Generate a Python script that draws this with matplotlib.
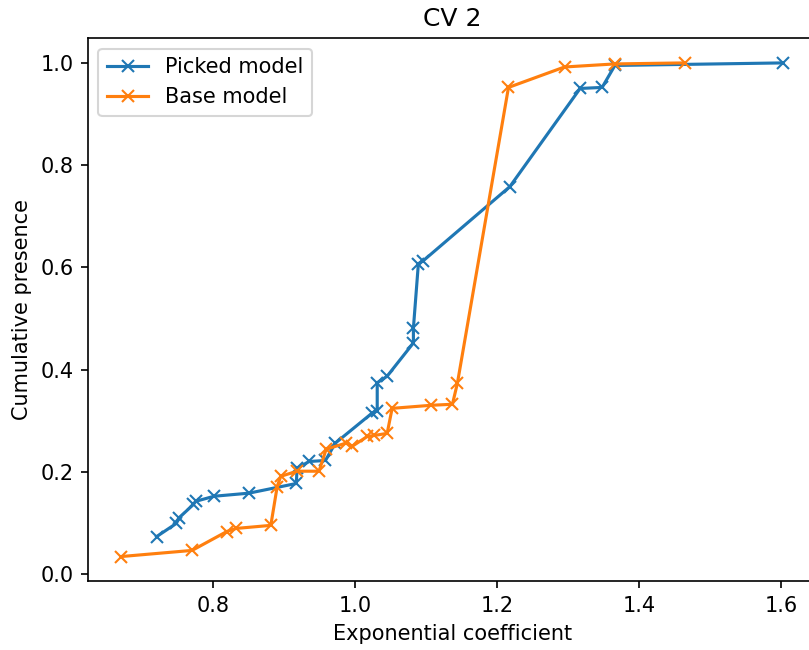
import matplotlib
matplotlib.use("Agg")
import matplotlib.pyplot as plt

# Picked model
picked_x = [0.720, 0.748, 0.751, 0.772, 0.775, 0.801, 0.850, 0.917, 0.918, 0.935,
            0.958, 0.972, 1.024, 1.031, 1.031, 1.045, 1.082, 1.082, 1.089, 1.096,
            1.218, 1.317, 1.348, 1.366, 1.603]
picked_y = [0.073, 0.099, 0.109, 0.136, 0.142, 0.152, 0.158, 0.177, 0.207, 0.220,
            0.222, 0.256, 0.315, 0.319, 0.374, 0.387, 0.452, 0.481, 0.607, 0.613,
            0.758, 0.950, 0.952, 0.995, 1.000]

# Base model
base_x = [0.670, 0.770, 0.819, 0.832, 0.881, 0.890, 0.895, 0.918, 0.949, 0.959,
          0.987, 0.996, 1.017, 1.027, 1.045, 1.052, 1.107, 1.137, 1.144, 1.216,
          1.295, 1.366, 1.465]
base_y = [0.034, 0.046, 0.083, 0.089, 0.095, 0.171, 0.191, 0.201, 0.201, 0.244,
          0.256, 0.250, 0.269, 0.271, 0.275, 0.324, 0.330, 0.332, 0.373, 0.952,
          0.992, 0.998, 1.000]

DPI = 150
fig = plt.figure(figsize=(809 / DPI, 650 / DPI), dpi=DPI)
# axes runs slightly past the right edge, as in the reference crop
ax = fig.add_axes([0.1088, 0.1058, 0.90, 0.8354])

ax.plot(picked_x, picked_y, marker='x', label='Picked model')
ax.plot(base_x, base_y, marker='x', label='Base model')

ax.set_title('CV 2')
ax.set_xlabel('Exponential coefficient')
ax.set_ylabel('Cumulative presence')
ax.legend(loc='upper left')

fig.savefig('out.png', dpi=DPI)
